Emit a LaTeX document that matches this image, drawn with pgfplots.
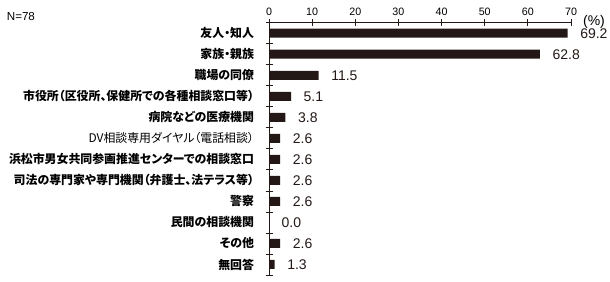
\documentclass[border=0pt]{standalone}
\usepackage{fontspec}
\setmainfont{Liberation Sans}
\newfontfamily\jp{Noto Sans CJK JP}[RawFeature=+palt]
\usepackage{pgfplots}
\pgfplotsset{compat=1.18}
\definecolor{barcol}{HTML}{231815}
\begin{document}
\begin{tikzpicture}
\useasboundingbox (0,0) rectangle (610pt,-281pt);
\begin{axis}[
  at={(269pt,-22.7pt)}, anchor=north west,
  scale only axis, width=302pt, height=252.3pt,
  xmin=0, xmax=70, ymin=-0.5, ymax=11.5,
  axis x line*=top, axis y line*=left,
  xtick={0,10,...,70},
  ytick={-0.5,0.5,...,11.5},
  yticklabels={無回答,その他,民間の相談機関,警察,司法の専門家や専門機関（弁護士、法テラス等）,浜松市男女共同参画推進センターでの相談窓口,{\mdseries DV相談専用ダイヤル（電話相談）},病院などの医療機関,市役所（区役所、保健所での各種相談窓口等）,職場の同僚,家族・親族,友人・知人,{}},
  yticklabel style={font=\jp\bfseries\fontsize{11.9pt}{13pt}\selectfont, yshift=10.5pt, xshift=-8pt},
  xticklabel style={font=\fontsize{10.7pt}{12pt}\selectfont},
  /pgf/number format/assume math mode=true,
  tick align=center, major tick length=7pt,
  axis line style={line width=0.8pt, barcol},
  tick style={line width=0.8pt, barcol},
  clip=false,
  nodes near coords={\pgfmathprintnumber[fixed,fixed zerofill,precision=1]{\pgfplotspointmeta}},
  point meta=x,
  nodes near coords style={anchor=west, inner sep=0pt, xshift=12.5pt, font=\fontsize{14pt}{16pt}\selectfont, text=barcol},
]
\addplot[xbar, fill=barcol, draw=none, bar width=9pt] coordinates {
(69.2,11) (62.8,10) (11.5,9) (5.1,8) (3.8,7) (2.6,6) (2.6,5) (2.6,4) (2.6,3) (0.0,2) (2.6,1) (1.3,0)
};
\end{axis}
\node[anchor=west, inner sep=0pt, font=\fontsize{11.6pt}{12pt}\selectfont] at (6.7pt,-16.5pt) {N=78};
\node[inner sep=0pt, font=\fontsize{14pt}{16pt}\selectfont] at (594pt,-21.7pt) {(\%)};
\end{tikzpicture}
\end{document}
